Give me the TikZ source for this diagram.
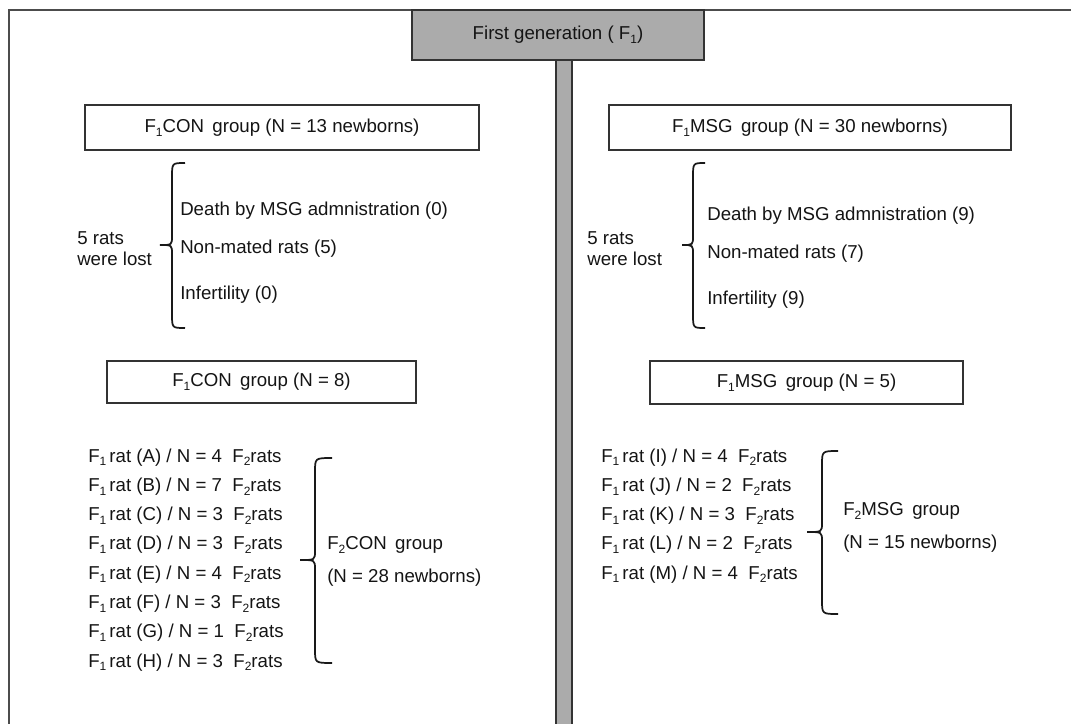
\documentclass[tikz,border=0pt]{standalone}
\usepackage{fontspec}
\setmainfont{Liberation Sans}
\newcommand\sbs[1]{\raisebox{-0.38ex}{\fontsize{9}{9}\selectfont #1}}
\newcommand\grp{\hspace{0.45em}}
\begin{document}
\begin{tikzpicture}[x=0.75pt,y=-0.75pt,
  every node/.style={font=\fontsize{14}{16}\selectfont, text=black!92, inner sep=0pt},
  grpbox/.style={draw=black!80, line width=1.5pt, fill=white},
  frameline/.style={draw=black!70, line width=1.6pt},
  bracel/.style={draw=black!90, line width=1.3pt},
  txt/.style={anchor=base west}]
\useasboundingbox (0,0) rectangle (1071,724);
% frame
\draw[frameline] (9,724) -- (9,10) -- (1071,10);
% central bar
\draw[fill=black!33, draw=black!80, line width=1.2pt] (556,60) rectangle (572,726);
% title box
\draw[grpbox, fill=black!33] (412,10) rectangle (704,60);
\node (title) at (558,35) {First generation ( F\sbs{1})};

% boxes
\draw[grpbox] (85,105) rectangle (479,150);
\node (con1) at (282,127.5) {F\sbs{1}CON\grp group (N = 13 newborns)};
\draw[grpbox] (609,105) rectangle (1011,150);
\node (msg1) at (810,127.5) {F\sbs{1}MSG\grp group (N = 30 newborns)};
\draw[grpbox] (107,361) rectangle (416,403);
\node (con2) at (261.5,382) {F\sbs{1}CON\grp group (N = 8)};
\draw[grpbox] (650,361) rectangle (963,404);
\node (msg2) at (806.5,382.5) {F\sbs{1}MSG\grp group (N = 5)};

% braces: #1 xv, #2 xt, #3 xh, #4 y1, #5 ym, #6 y2
\newcommand\mybrace[6]{%
  \draw[bracel] (#3,#4) .. controls (#1,#4) .. (#1,#4+14) -- (#1,#5-9)
    .. controls (#1,#5) .. (#2,#5) .. controls (#1,#5) .. (#1,#5+9)
    -- (#1,#6-14) .. controls (#1,#6) .. (#3,#6);}
\mybrace{172}{160}{185}{163}{245}{328}
\mybrace{693}{682}{705}{163}{245}{328}
\mybrace{315}{300}{332}{458}{560}{663}
\mybrace{822}{807}{838}{451}{532}{614}

% lost texts
\node[txt] (l1) at (77,244) {5 rats};
\node[txt] (l2) at (77,265) {were lost};
\node[txt] (r1) at (587,244) {5 rats};
\node[txt] (r2) at (587,265) {were lost};
\node[txt] (ld) at (180,215) {Death by MSG admnistration (0)};
\node[txt] (ln) at (180,253) {Non-mated rats (5)};
\node[txt] (li) at (180,299) {Infertility (0)};
\node[txt] (rd) at (707,220) {Death by MSG admnistration (9)};
\node[txt] (rn) at (707,258) {Non-mated rats (7)};
\node[txt] (ri) at (707,304) {Infertility (9)};

% lists
\foreach \L/\n [count=\i from 0] in {A/4,B/7,C/3,D/3,E/4,F/3,G/1,H/3}
  \node[txt] (cl\i) at (88,462+29.3*\i) {F\sbs{1}\,rat (\L) / N = \n\ \ F\sbs{2}rats};
\foreach \L/\n [count=\i from 0] in {I/4,J/2,K/3,L/2,M/4}
  \node[txt] (ml\i) at (601,462+29.3*\i) {F\sbs{1}\,rat (\L) / N = \n\ \ F\sbs{2}rats};
\node[txt] (f2c) at (327,549.5) {F\sbs{2}CON\grp group};
\node[txt] (f2cn) at (327,582.5) {(N = 28 newborns)};
\node[txt] (f2m) at (843,515.5) {F\sbs{2}MSG\grp group};
\node[txt] (f2mn) at (843,548.5) {(N = 15 newborns)};
\end{tikzpicture}
\end{document}
